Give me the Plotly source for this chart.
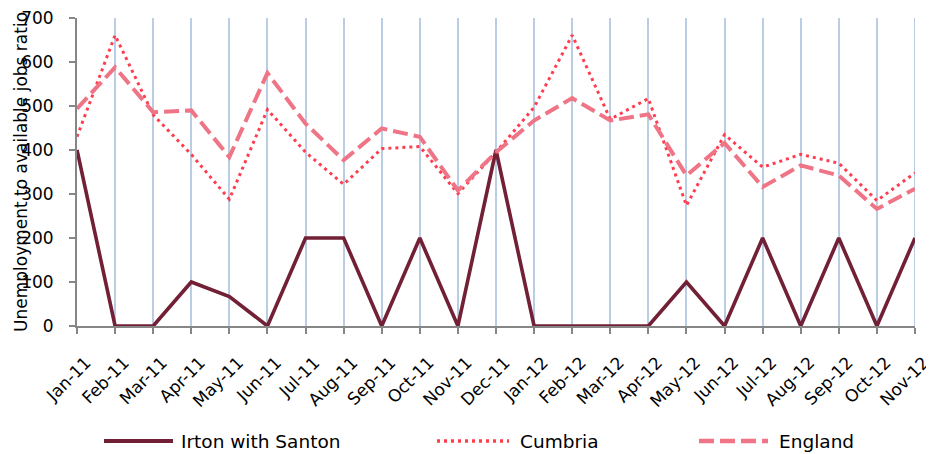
import plotly.graph_objects as go

months = ["Jan-11", "Feb-11", "Mar-11", "Apr-11", "May-11", "Jun-11", "Jul-11", "Aug-11",
          "Sep-11", "Oct-11", "Nov-11", "Dec-11", "Jan-12", "Feb-12", "Mar-12", "Apr-12",
          "May-12", "Jun-12", "Jul-12", "Aug-12", "Sep-12", "Oct-12", "Nov-12"]
irton = [400, 0, 0, 100, 67, 0, 200, 200, 0, 200, 0, 400, 0, 0, 0, 0, 100, 0, 200, 0, 200, 0, 200]
cumbria = [430, 661, 480, 390, 288, 492, 395, 322, 403, 408, 301, 395, 497, 661, 470, 517,
           274, 435, 361, 390, 370, 285, 348]
england = [494, 588, 486, 490, 384, 575, 460, 377, 449, 430, 308, 395, 467, 518, 467, 481,
           342, 416, 316, 365, 342, 266, 312]
yticks = [0, 100, 200, 300, 400, 500, 600, 700]

series = [
    ("Irton with Santon", irton, "#722035", "solid", 3.6),
    ("Cumbria", cumbria, "#ff3d4f", "3px,4px", 3),
    ("England", england, "#ee7486", "15px,6px", 4),
]

# the page body has an 8px margin; figure is sized/placed to compensate
OFF = 8
W, H = 934 - OFF, 454 - OFF
L, T = 77 - OFF, 18 - OFF
R = W - (915 - OFF)
B = H - (326 - OFF)
PW, PH = W - L - R, H - T - B

fig = go.Figure()
for name, vals, col, dash, w in series:
    fig.add_trace(go.Scatter(x=list(range(len(months))), y=vals, mode="lines", name=name,
                             line=dict(color=col, dash=dash, width=w), showlegend=False))

font = "DejaVu Sans, Liberation Sans, Arial, sans-serif"
fig.update_layout(
    width=W, height=H,
    margin=dict(l=L, r=R, t=T, b=B, autoexpand=False),
    paper_bgcolor="white", plot_bgcolor="white",
    font=dict(family=font, color="#000000"),
    xaxis=dict(
        range=[0, len(months) - 1], tickmode="array",
        tickvals=list(range(len(months))), ticktext=months,
        tickangle=-45, tickfont=dict(size=17),
        ticklabelshift=9, ticklabelstandoff=12, ticklabeloverflow="allow",
        showgrid=True, gridcolor="#b9cde5", gridwidth=2,
        showline=True, linecolor="#868686", linewidth=2,
        ticks="outside", tickcolor="#868686", ticklen=6, tickwidth=1.5,
        zeroline=False, automargin=False,
    ),
    yaxis=dict(
        range=[0, 700], tickvals=yticks, tickfont=dict(size=17),
        showgrid=False, zeroline=False, ticklabeloverflow="allow",
        showline=True, linecolor="#868686", linewidth=2,
        ticks="outside", tickcolor="#868686", ticklen=6, tickwidth=1.5,
        ticklabelstandoff=12, automargin=False,
    ),
)

# gridline at the last category (plotly drops the one on the plot edge)
fig.add_shape(type="line", xref="x", yref="paper", x0=len(months) - 1, x1=len(months) - 1,
              y0=0, y1=1, line=dict(color="#b9cde5", width=2), layer="below")

# y-axis title
fig.add_annotation(text="Unemployment to available jobs ratio", xref="paper", yref="paper",
                   x=(21 - OFF - L) / PW, y=0.5, textangle=-90, showarrow=False,
                   xanchor="center", yanchor="middle",
                   font=dict(size=17, family=font, color="#000000"))

# custom legend (page-pixel positions)
leg_y = 441
items = [(104, 173, 179), (437, 509, 518), (699, 768, 777)]
for (x0, x1, tx), (name, _, col, dash, w) in zip(items, series):
    yy = (326 - leg_y) / PH
    fig.add_shape(type="line", xref="paper", yref="paper",
                  x0=(x0 - 77) / PW, x1=(x1 - 77) / PW, y0=yy, y1=yy,
                  line=dict(color=col, dash=dash, width=w + 0.5))
    fig.add_annotation(text=name, xref="paper", yref="paper",
                       x=(tx - 77) / PW, y=yy,
                       xanchor="left", yanchor="middle", showarrow=False,
                       font=dict(size=18.5, family=font, color="#000000"))

fig.write_html("out.html")
